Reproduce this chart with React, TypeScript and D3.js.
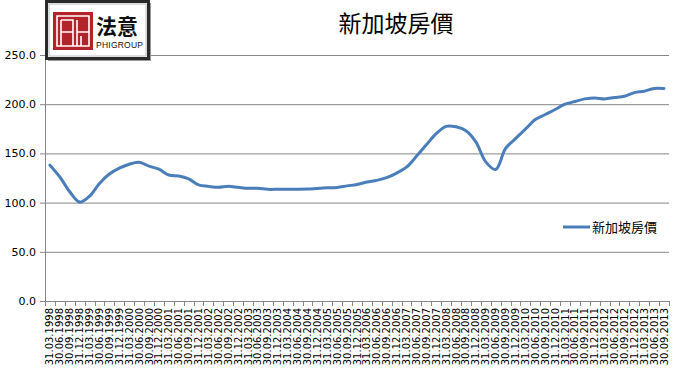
import React, { useEffect, useRef } from "react";
import * as d3 from "d3";

const categories: string[] = [
  "31.03.1998","30.06.1998","30.09.1998","31.12.1998",
  "31.03.1999","30.06.1999","30.09.1999","31.12.1999",
  "31.03.2000","30.06.2000","30.09.2000","31.12.2000",
  "31.03.2001","30.06.2001","30.09.2001","31.12.2001",
  "31.03.2002","30.06.2002","30.09.2002","31.12.2002",
  "31.03.2003","30.06.2003","30.09.2003","31.12.2003",
  "31.03.2004","30.06.2004","30.09.2004","31.12.2004",
  "31.03.2005","30.06.2005","30.09.2005","31.12.2005",
  "31.03.2006","30.06.2006","30.09.2006","31.12.2006",
  "31.03.2007","30.06.2007","30.09.2007","31.12.2007",
  "31.03.2008","30.06.2008","30.09.2008","31.12.2008",
  "31.03.2009","30.06.2009","30.09.2009","31.12.2009",
  "31.03.2010","30.06.2010","30.09.2010","31.12.2010",
  "31.03.2011","30.06.2011","30.09.2011","31.12.2011",
  "31.03.2012","30.06.2012","30.09.2012","31.12.2012",
  "31.03.2013","30.06.2013","30.09.2013",
];

const priceIndex: number[] = [
  138, 126, 111, 100.5, 106.5, 119.5, 129, 135, 139, 141, 137, 134,
  128, 127, 124, 118, 116.5, 115.5, 116.5, 115.5, 114.5, 114.5, 113.5, 113.5,
  113.5, 113.5, 113.7, 114.4, 115, 115.4, 117, 118.4, 121, 122.6, 125.3, 130,
  136, 147, 158.7, 170, 177.5, 177, 173, 161.7, 141.4, 133.7, 155, 165,
  174.6, 184.4, 189.5, 194.6, 200, 202.7, 205.4, 206.4, 205.4, 206.8, 208, 211.8,
  213.2, 216, 216,
];

const yTicks: number[] = [0, 50, 100, 150, 200, 250];
const seriesName = "新加坡房價";
const title = "新加坡房價";

const W = 679;
const H = 373;
const plot = { left: 45, right: 669, top: 55, bottom: 301 };
const GRID = "#868686";
const LINE = "#4a7ebb";

export default function App() {
  const ref = useRef<SVGSVGElement>(null);

  useEffect(() => {
    const svg = d3.select(ref.current);
    svg.selectAll("*").remove();

    const x = d3.scaleBand<string>().domain(categories).range([plot.left, plot.right]).padding(0);
    const y = d3.scaleLinear().domain([0, 250]).range([plot.bottom, plot.top]);

    // gridlines
    svg.append("g").selectAll("line").data(yTicks.filter((t) => t > 0)).join("line")
      .attr("x1", plot.left).attr("x2", plot.right)
      .attr("y1", (d) => y(d) + 0.5).attr("y2", (d) => y(d) + 0.5)
      .attr("stroke", GRID).attr("stroke-width", 1);

    // y axis
    const ya = svg.append("g");
    ya.append("line").attr("x1", plot.left + 0.5).attr("x2", plot.left + 0.5)
      .attr("y1", plot.top).attr("y2", plot.bottom + 0.5).attr("stroke", GRID);
    ya.selectAll("line.tk").data(yTicks).join("line").attr("class", "tk")
      .attr("x1", plot.left - 5).attr("x2", plot.left)
      .attr("y1", (d) => y(d) + 0.5).attr("y2", (d) => y(d) + 0.5).attr("stroke", GRID);
    ya.selectAll("text").data(yTicks).join("text")
      .attr("x", 36).attr("y", (d) => y(d) + 4)
      .attr("text-anchor", "end").attr("font-family", "DejaVu Sans").attr("font-size", 11)
      .attr("fill", "#000").text((d) => d3.format(".1f")(d));

    // x axis
    const xa = svg.append("g");
    xa.append("line").attr("x1", plot.left).attr("x2", plot.right)
      .attr("y1", plot.bottom + 0.5).attr("y2", plot.bottom + 0.5).attr("stroke", GRID);
    const bounds = categories.map((c) => x(c)!).concat([plot.right]);
    xa.selectAll("line.tk").data(bounds).join("line").attr("class", "tk")
      .attr("x1", (d) => Math.round(d) + 0.5).attr("x2", (d) => Math.round(d) + 0.5)
      .attr("y1", plot.bottom).attr("y2", plot.bottom + 5).attr("stroke", GRID);
    xa.selectAll("text").data(categories).join("text")
      .attr("transform", (d) => `translate(${x(d)! + x.bandwidth() / 2 + 3.5},${plot.bottom + 7}) rotate(-90)`)
      .attr("text-anchor", "end").attr("font-family", "DejaVu Sans").attr("font-size", 10)
      .attr("fill", "#000").text((d) => d);

    // line
    const lineGen = d3.line<number>()
      .x((_, i) => x(categories[i])! + x.bandwidth() / 2)
      .y((d) => y(d))
      .curve(d3.curveCatmullRom.alpha(0.5));
    svg.append("path").datum(priceIndex).attr("d", lineGen)
      .attr("fill", "none").attr("stroke", LINE).attr("stroke-width", 3)
      .attr("stroke-linejoin", "round").attr("stroke-linecap", "round");

    // legend
    svg.append("line").attr("x1", 563).attr("x2", 590).attr("y1", 227).attr("y2", 227)
      .attr("stroke", LINE).attr("stroke-width", 3);
    svg.append("text").attr("x", 592).attr("y", 232)
      .attr("font-family", "Noto Sans CJK TC").attr("font-size", 13).attr("fill", "#000")
      .text(seriesName);

    // title
    svg.append("text").attr("x", 396).attr("y", 32).attr("text-anchor", "middle")
      .attr("font-family", "Noto Sans CJK TC").attr("font-size", 23).attr("fill", "#000")
      .text(title);

    // logo
    const lg = svg.append("g");
    lg.append("rect").attr("x", 48).attr("y", 3).attr("width", 103).attr("height", 58).attr("fill", "#999");
    lg.append("rect").attr("x", 46.5).attr("y", 1.5).attr("width", 102).attr("height", 57)
      .attr("fill", "#fff").attr("stroke", "#2a2a2a").attr("stroke-width", 3);
    lg.append("rect").attr("x", 49).attr("y", 4).attr("width", 97).attr("height", 52)
      .attr("fill", "none").attr("stroke", "#bbb").attr("stroke-width", 1);
    const red = "#b3232a";
    lg.append("rect").attr("x", 53).attr("y", 12).attr("width", 40).attr("height", 38).attr("fill", red);
    lg.append("path")
      .attr("d", "M57,16 H89 V46 H57 Z M61,20 V46 M61,20 H73 V32 H61 M77,20 V32 H89 M73,32 V46 M77,32 V46 M81,36 V46")
      .attr("fill", "none").attr("stroke", "#fff").attr("stroke-width", 1.6);
    lg.append("text").attr("x", 96).attr("y", 34)
      .attr("font-family", "Noto Sans CJK SC").attr("font-weight", "bold").attr("font-size", 21)
      .attr("fill", "#111").text("法意");
    lg.append("text").attr("x", 96).attr("y", 48).attr("textLength", 47)
      .attr("font-family", "Liberation Sans").attr("font-size", 8.5)
      .attr("fill", "#111").text("PHIGROUP");
  }, []);

  return (
    <svg ref={ref} width={W} height={H}
      style={{ position: "absolute", left: 0, top: 0, background: "#fff" }} />
  );
}
